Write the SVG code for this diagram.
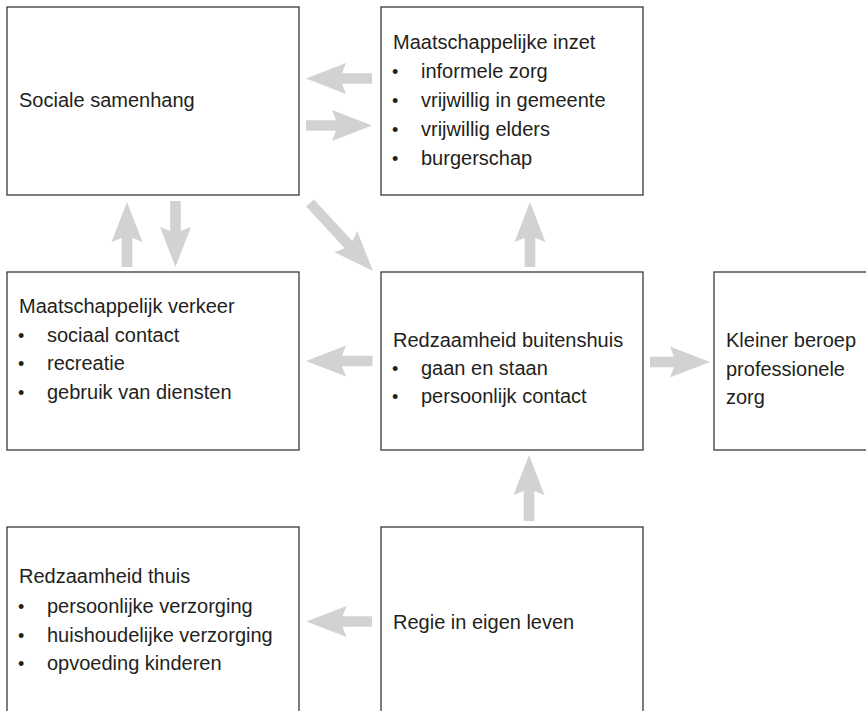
<svg xmlns="http://www.w3.org/2000/svg" width="866" height="711" viewBox="0 0 866 711">
<style>
.box{fill:#fff;stroke:#3a3a3a;stroke-width:1.3}
.t{font-family:"Liberation Sans",Arial,sans-serif;font-size:20px;fill:#231f20}
.b{font-family:"Liberation Sans",Arial,sans-serif;font-size:18px;fill:#231f20}
.arr{fill:#d1d2d4}
</style>
<rect x="0" y="0" width="866" height="711" fill="#fff"/>
<g id="connectors">
<polygon class="arr" points="372,73.2 342,73.2 346,63 306,78.5 346,94 342,83.8 372,83.8"/>
<polygon class="arr" points="306,120.2 336,120.2 332,110 372,125.5 332,141 336,130.8 306,130.8"/>
<polygon class="arr" points="121.7,267 121.7,238 111.5,242 127,202 142.5,242 132.3,238 132.3,267"/>
<polygon class="arr" points="170.2,201 170.2,231 160,227 175.5,267 191,227 180.8,231 180.8,201"/>
<polygon class="arr" transform="translate(310,203) rotate(47.2)" points="0,-5.3 56.7,-5.3 52.7,-15.5 92.7,0 52.7,15.5 56.7,5.3 0,5.3"/>
<polygon class="arr" points="524.7,267 524.7,238 514.5,242 530,202 545.5,242 535.3,238 535.3,267"/>
<polygon class="arr" points="372.5,355.7 342,355.7 346,345.5 306,361 346,376.5 342,366.3 372.5,366.3"/>
<polygon class="arr" points="650,356.7 674,356.7 670,346.5 710,362 670,377.5 674,367.3 650,367.3"/>
<polygon class="arr" points="523.7,521 523.7,491 513.5,495 529,455 544.5,495 534.3,491 534.3,521"/>
<polygon class="arr" points="372,616.2 342.5,616.2 346.5,606 306.5,621.5 346.5,637 342.5,626.8 372,626.8"/>
</g>
<g id="sociale-samenhang">
<rect class="box" x="7" y="7" width="292" height="188"/>
<text class="t" x="19" y="107">Sociale samenhang</text>
</g>
<g id="maatschappelijke-inzet">
<rect class="box" x="381" y="7" width="262" height="188"/>
<text class="t" x="393" y="49">Maatschappelijke inzet</text>
<text class="b" x="392" y="78">•</text><text class="t" x="421" y="78">informele zorg</text>
<text class="b" x="392" y="107">•</text><text class="t" x="421" y="107">vrijwillig in gemeente</text>
<text class="b" x="392" y="136">•</text><text class="t" x="421" y="136">vrijwillig elders</text>
<text class="b" x="392" y="165">•</text><text class="t" x="421" y="165">burgerschap</text>
</g>
<g id="maatschappelijk-verkeer">
<rect class="box" x="7" y="272" width="292" height="178"/>
<text class="t" x="19" y="313">Maatschappelijk verkeer</text>
<text class="b" x="18" y="342">•</text><text class="t" x="47" y="342">sociaal contact</text>
<text class="b" x="18" y="370">•</text><text class="t" x="47" y="370">recreatie</text>
<text class="b" x="18" y="399">•</text><text class="t" x="47" y="399">gebruik van diensten</text>
</g>
<g id="redzaamheid-buitenshuis">
<rect class="box" x="381" y="272" width="262" height="178"/>
<text class="t" x="393" y="347">Redzaamheid buitenshuis</text>
<text class="b" x="392" y="375">•</text><text class="t" x="421" y="375">gaan en staan</text>
<text class="b" x="392" y="403">•</text><text class="t" x="421" y="403">persoonlijk contact</text>
</g>
<g id="kleiner-beroep">
<rect class="box" x="714" y="272" width="160" height="178"/>
<text class="t" x="726" y="347">Kleiner beroep</text>
<text class="t" x="726" y="376">professionele</text>
<text class="t" x="726" y="404">zorg</text>
</g>
<g id="redzaamheid-thuis">
<rect class="box" x="7" y="527" width="292" height="200"/>
<text class="t" x="19" y="583">Redzaamheid thuis</text>
<text class="b" x="18" y="613">•</text><text class="t" x="47" y="613">persoonlijke verzorging</text>
<text class="b" x="18" y="642">•</text><text class="t" x="47" y="642">huishoudelijke verzorging</text>
<text class="b" x="18" y="670">•</text><text class="t" x="47" y="670">opvoeding kinderen</text>
</g>
<g id="regie">
<rect class="box" x="381" y="527" width="262" height="200"/>
<text class="t" x="393" y="629">Regie in eigen leven</text>
</g>
</svg>
